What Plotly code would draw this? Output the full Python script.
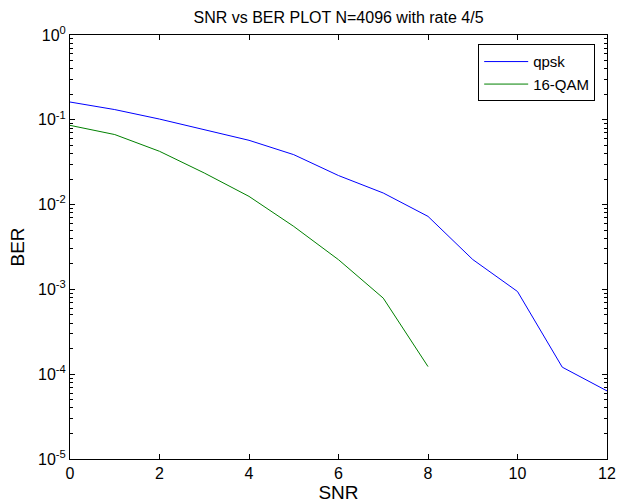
import plotly.graph_objects as go

snr_qpsk = [0, 1, 2, 3, 4, 5, 6, 7, 8, 9, 10, 11, 12]
ber_qpsk = [0.162, 0.132, 0.102, 0.0766, 0.0573, 0.0388, 0.022, 0.0137,
            0.00726, 0.00225, 0.000944, 0.000121, 0.0000635]
snr_16qam = [0, 1, 2, 3, 4, 5, 6, 7, 8]
ber_16qam = [0.086, 0.067, 0.0425, 0.0236, 0.0125, 0.00553, 0.00224,
             0.000789, 0.000123]

x_ticks = [0, 2, 4, 6, 8, 10, 12]
y_exps = [-5, -4, -3, -2, -1, 0]
y_tickvals = [10 ** e for e in y_exps]
y_ticktext = ["10<sup>%d</sup>" % e for e in y_exps]
y_minor = [m * 10 ** e for e in range(-5, 0) for m in range(2, 10)]

FONT = "Liberation Sans, Arial, Helvetica, sans-serif"
W, H = 618, 503

fig = go.Figure()
fig.add_trace(go.Scatter(x=snr_qpsk, y=ber_qpsk, mode="lines", name="qpsk",
                         line=dict(color="#0000ff", width=1)))
fig.add_trace(go.Scatter(x=snr_16qam, y=ber_16qam, mode="lines", name="16-QAM",
                         line=dict(color="#008000", width=1)))

fig.update_layout(
    width=W, height=H,
    margin=dict(l=70, r=11, t=35, b=44),
    paper_bgcolor="white", plot_bgcolor="white",
    font=dict(family=FONT, size=16, color="black"),
    title=dict(text="SNR vs BER PLOT N=4096 with rate 4/5",
               x=0.5, xref="paper", xanchor="center",
               y=1 - 17.5 / H, yref="container", yanchor="middle",
               font=dict(size=16), automargin=False),
    showlegend=True,
    legend=dict(x=0.978, y=0.978, xanchor="right", yanchor="top",
                bgcolor="white", bordercolor="black", borderwidth=1,
                font=dict(size=15), tracegroupgap=0, itemwidth=44),
    xaxis=dict(range=[0, 12], tickvals=x_ticks, ticks="inside", ticklen=5,
               tickcolor="black", showline=True, linecolor="black", linewidth=1,
               mirror="ticks", showgrid=False, zeroline=False, automargin=False,
               title=dict(text="SNR", standoff=6)),
    yaxis=dict(type="log", range=[-5, 0], tickvals=y_tickvals, ticktext=y_ticktext,
               ticks="inside", ticklen=5, tickcolor="black",
               showline=True, linecolor="black", linewidth=1,
               mirror="ticks", showgrid=False, zeroline=False, automargin=False,
               minor=dict(tickvals=y_minor, ticks="inside", ticklen=3,
                          tickcolor="black", showgrid=False),
               title=dict(text="BER", standoff=8)),
)

fig.write_html("out.html",
               config={"displayModeBar": False},
               post_script="document.body.style.margin='0';"
                           "document.body.style.overflow='hidden';")
